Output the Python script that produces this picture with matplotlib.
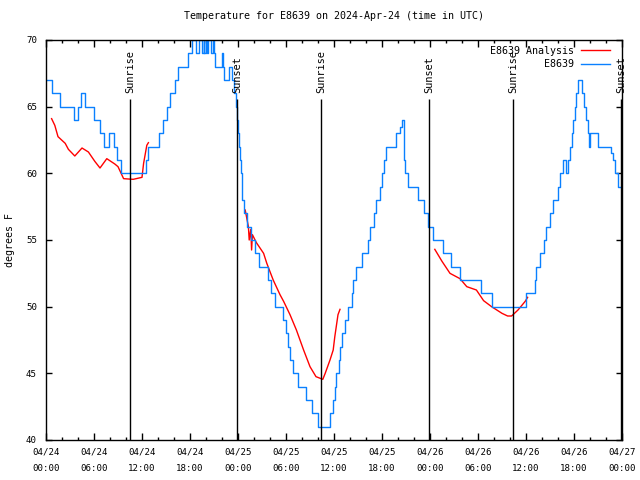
import matplotlib
matplotlib.use("Agg")
import matplotlib.pyplot as plt
import matplotlib.dates as mdates
import pandas as pd

# ---------------- data ----------------
start = "2024-04-24 00:00"

# observed E8639 (hours since start, deg F) - step breakpoints
obs_hours = [0.0, 0.7, 1.8, 3.5, 4.0, 4.4, 4.9, 6.0, 6.7, 7.2, 7.9, 8.5, 8.9, 9.4,
             12.5, 12.8, 14.1, 14.6, 15.1, 15.5, 16.1, 16.5, 17.8, 18.2, 18.75, 19.1,
             19.5, 19.7, 19.8, 20.0, 20.1, 20.3, 20.6, 20.9, 21.0, 21.1, 21.95, 22.1,
             22.25, 22.9, 23.3, 23.5, 23.75, 23.9, 24.0, 24.1, 24.25, 24.35, 24.45,
             24.55, 24.75, 25.1, 25.6, 26.1, 26.6, 27.75, 28.1, 28.6, 29.6, 30.0, 30.2,
             30.5, 30.9, 31.5, 32.5, 33.2, 34.0, 35.5, 35.9, 36.1, 36.3, 36.6, 36.8,
             37.0, 37.4, 37.8, 38.2, 38.4, 38.8, 39.5, 40.2, 40.5, 41.0, 41.3, 41.75,
             42.0, 42.2, 42.5, 43.7, 44.25, 44.5, 44.8, 44.9, 45.2, 46.5, 47.2, 47.8,
             48.4, 49.6, 50.6, 51.8, 54.4, 55.8, 60.0, 60.2, 61.1, 61.3, 61.75, 62.2,
             62.5, 63.0, 63.4, 64.0, 64.25, 64.6, 64.9, 65.0, 65.3, 65.5, 65.7, 65.9,
             66.1, 66.3, 66.5, 67.0, 67.25, 67.5, 67.7, 67.9, 68.0, 69.0, 70.6, 70.9,
             71.1, 71.5, 71.7]
obs_temp = [67, 66, 65, 64, 65, 66, 65, 64, 63, 62, 63, 62, 61, 60,
            61, 62, 63, 64, 65, 66, 67, 68, 69, 70, 69, 70,
            69, 70, 69, 70, 69, 70, 69, 70, 69, 68, 69, 68,
            67, 68, 67, 66, 65, 64, 63, 62, 61, 60, 59,
            58, 57, 56, 55, 54, 53, 52, 51, 50, 49, 48, 47,
            46, 45, 44, 43, 42, 41, 42, 43, 44, 45, 46, 47,
            48, 49, 50, 51, 52, 53, 54, 55, 56, 57, 58, 59,
            60, 61, 62, 63, 63.5, 64, 61, 60, 59, 58, 57, 56,
            55, 54, 53, 52, 51, 50, 51, 51, 52, 53, 54, 55,
            56, 57, 58, 59, 60, 61, 61, 60, 61, 62, 63, 64,
            65, 66, 67, 66, 65, 64, 63, 62, 63, 62, 61.5, 61,
            60, 59, 59]

# analysis E8639 (three segments)
ana1_hours = [0.7, 1.1, 1.5, 2.4, 2.8, 3.6, 4.5, 5.3, 6.1, 6.75, 7.6, 8.6, 9.0, 9.7,
              10.9, 12.0, 12.2, 12.6, 12.8]
ana1_temp = [64.1, 63.6, 62.75, 62.25, 61.8, 61.3, 61.9, 61.6, 60.9, 60.4, 61.1, 60.7,
             60.5, 59.6, 59.55, 59.7, 60.75, 62.1, 62.3]
ana2_hours = [24.9, 25.3, 25.4, 25.6, 25.7, 25.8, 26.3, 27.2, 27.6, 28.4, 29.25, 29.7,
              30.5, 31.3, 32.2, 33.0, 33.75, 34.6, 34.9, 35.5, 35.9, 36.1, 36.5, 36.75]
ana2_temp = [57.25, 56.0, 55.0, 55.8, 54.25, 55.4, 54.8, 54.0, 53.25, 52.0, 50.9, 50.4,
             49.4, 48.25, 46.75, 45.5, 44.75, 44.55, 45.0, 46.0, 46.75, 47.75, 49.4, 49.8]
ana3_hours = [48.6, 49.5, 50.5, 51.75, 52.6, 53.8, 54.7, 55.7, 57.0, 57.7, 58.2, 59.0,
              59.9, 60.2]
ana3_temp = [54.3, 53.4, 52.5, 52.1, 51.5, 51.25, 50.45, 50.0, 49.5, 49.3, 49.3, 49.75,
             50.4, 50.7]

event_names = ["Sunrise", "Sunset", "Sunrise", "Sunset", "Sunrise", "Sunset"]
event_hours = [10.5, 23.9, 34.4, 47.9, 58.4, 71.9]

title = "Temperature for E8639 on 2024-Apr-24 (time in UTC)"
ylabel = "degrees F"
series_labels = ["E8639 Analysis", "E8639"]

# ---------------- plot ----------------
MONO = ["DejaVu Sans Mono"]
t0 = pd.Timestamp(start)


def tt(hours):
    return [t0 + pd.Timedelta(hours=h) for h in hours]


fig = plt.figure(figsize=(6.4, 4.8), dpi=100)
ax = fig.add_axes([46 / 640, 40 / 480, 576 / 640, 400 / 480])

red = "#ff0000"
blue = "#0a80ff"

for i, (hh, vv) in enumerate([(ana1_hours, ana1_temp), (ana2_hours, ana2_temp),
                              (ana3_hours, ana3_temp)]):
    ax.plot(tt(hh), vv, color=red, lw=1.0,
            label=series_labels[0] if i == 0 else None)
ax.plot(tt(obs_hours), obs_temp, color=blue, lw=1.0, drawstyle="steps-post",
        label=series_labels[1])

ymin, ymax = 40, 70
for name, h in zip(event_names, event_hours):
    x = t0 + pd.Timedelta(hours=h)
    ax.vlines(x, ymin, 65.6, color="black", lw=1.0)
    ax.text(x, 66.05, name, rotation=90, ha="center", va="bottom",
            fontsize=7.4, family=MONO, clip_on=False)

ax.set_xlim(t0, t0 + pd.Timedelta(hours=72))
ax.set_ylim(ymin, ymax)
ax.set_yticks(range(40, 71, 5))

ax.xaxis.set_major_locator(mdates.HourLocator(byhour=[0, 6, 12, 18]))
ax.xaxis.set_minor_locator(mdates.HourLocator(byhour=range(0, 24, 2)))
ax.xaxis.set_major_formatter(mdates.DateFormatter("%m/%d\n%H:%M"))

ax.tick_params(axis="both", which="both", direction="in", top=True, right=True,
               width=1.0, colors="black")
ax.tick_params(axis="x", which="major", length=5, pad=5.5, labelsize=6.6)
ax.tick_params(axis="x", which="minor", length=2.5)
ax.tick_params(axis="y", which="major", length=4, pad=6.5, labelsize=6.6)
for lab in ax.get_xticklabels() + ax.get_yticklabels():
    lab.set_family(MONO)
    lab.set_linespacing(2.0)
for sp in ax.spines.values():
    sp.set_linewidth(1.0)

ax.set_title(title, fontsize=7.2, family=MONO, pad=15)
fig.text(10 / 640, 0.5, ylabel, rotation=90, ha="center", va="center",
         fontsize=7.2, family=MONO)

leg = ax.legend(loc="upper right", bbox_to_anchor=(0.983, 0.99), frameon=False,
                markerfirst=False, prop={"family": MONO, "size": 7.2},
                handlelength=2.9, handletextpad=0.7, labelspacing=0.35,
                borderaxespad=0.0, borderpad=0.2)

fig.savefig("out.png", dpi=100)
